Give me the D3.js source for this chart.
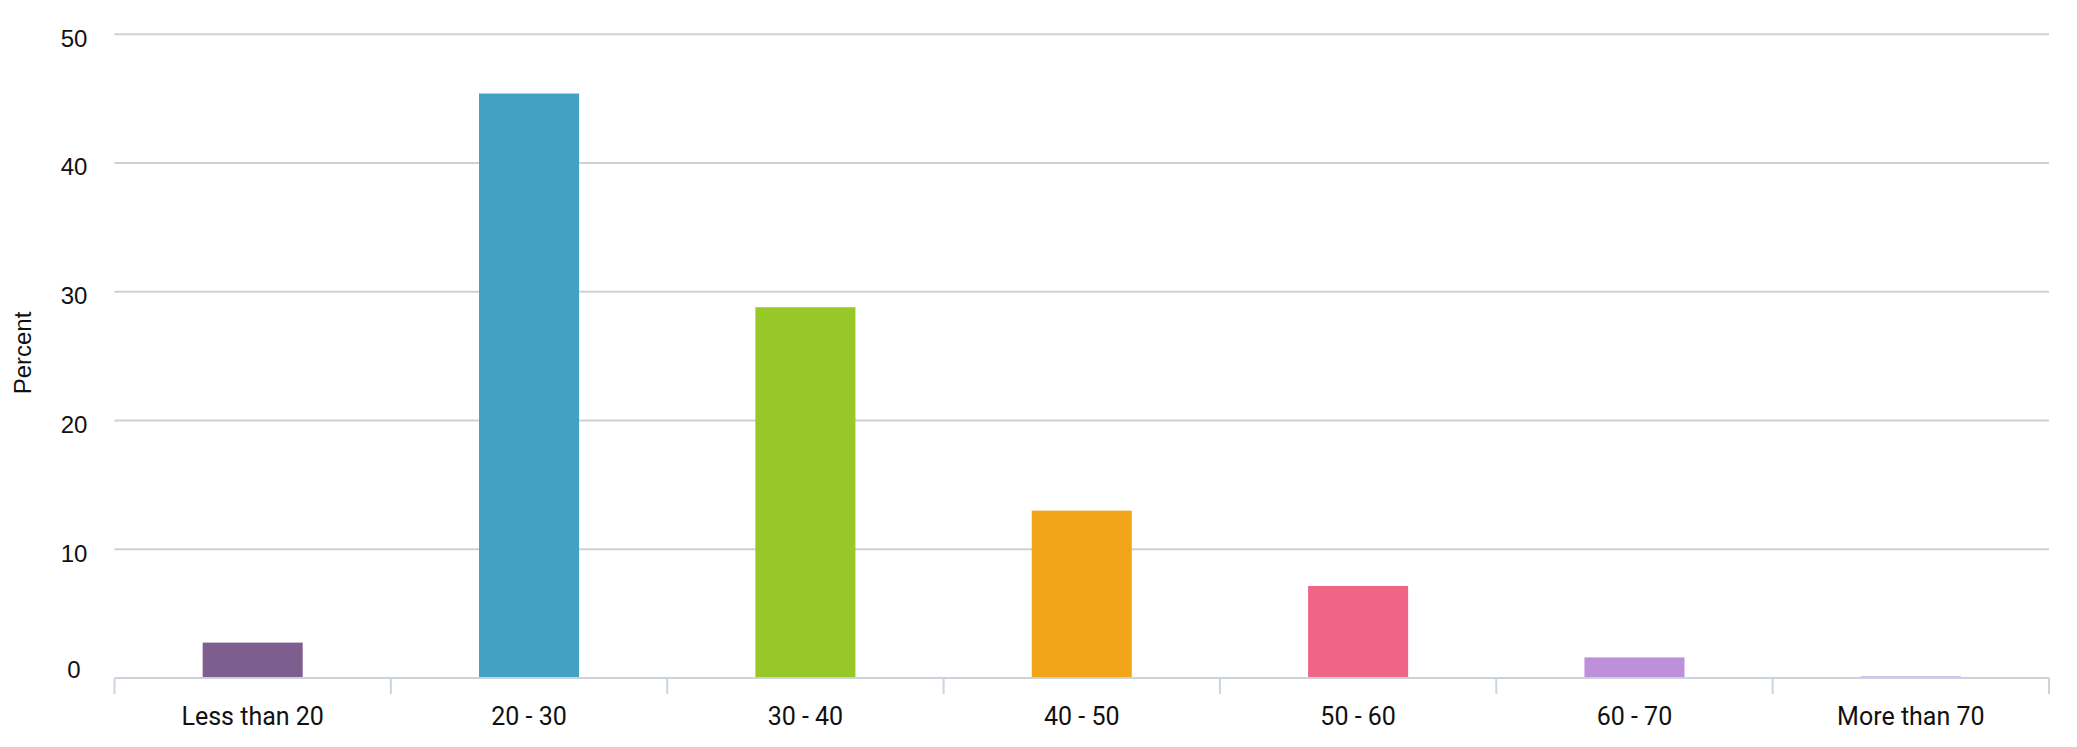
<!DOCTYPE html>
<html>
<head>
<meta charset="utf-8">
<script src="https://cdn.jsdelivr.net/npm/d3@7"></script>
<style>
  html, body { margin: 0; padding: 0; background: #fff; }
  svg { display: block; }
</style>
</head>
<body>
<svg id="chart" width="2077" height="747"></svg>
<script>
const categories = ["Less than 20", "20 - 30", "30 - 40", "40 - 50", "50 - 60", "60 - 70", "More than 70"];
const values = [2.75, 45.4, 28.8, 13.0, 7.15, 1.6, 0.12];
const colors = ["#7D5E8F", "#41A2C3", "#97C827", "#F3A51A", "#EF6586", "#BE8FDB", "#9A97D8"];
const yTicks = [0, 10, 20, 30, 40, 50];
const yTitle = "Percent";

(function () {
const plotLeft = 114.5, plotRight = 2049, plotTop = 34.3, plotBottom = 678;

const svg = d3.select("#chart");

const x = d3.scaleBand().domain(categories).range([plotLeft, plotRight]).padding(0);
const y = d3.scaleLinear().domain([0, 50]).range([plotBottom, plotTop]);

// gridlines
svg.append("g")
  .selectAll("line")
  .data(yTicks.filter(d => d !== 0))
  .join("line")
  .attr("x1", plotLeft).attr("x2", plotRight)
  .attr("y1", d => y(d)).attr("y2", d => y(d))
  .attr("stroke", "#d0d0d0")
  .attr("stroke-width", 2);

// y tick labels
svg.append("g")
  .selectAll("text")
  .data(yTicks)
  .join("text")
  .attr("x", 74)
  .attr("y", d => y(d) + (d === 0 ? -6 : 6))
  .attr("text-anchor", "middle")
  .attr("dominant-baseline", "middle")
  .attr("font-family", "'Liberation Sans', Arial, sans-serif")
  .attr("font-size", 24)
  .attr("fill", "#111")
  .text(d => d);

// y title
svg.append("text")
  .attr("transform", `translate(31, 353) rotate(-90)`)
  .attr("text-anchor", "middle")
  .attr("font-family", "'Liberation Sans', Arial, sans-serif")
  .attr("font-size", 24)
  .attr("fill", "#111")
  .text(yTitle);

// bars
const barW = x.bandwidth() * 0.362;
svg.append("g")
  .selectAll("rect")
  .data(categories.map((c, i) => ({ c, v: values[i], col: colors[i] })))
  .join("rect")
  .attr("x", d => x(d.c) + x.bandwidth() / 2 - barW / 2)
  .attr("width", barW)
  .attr("y", d => y(d.v))
  .attr("height", d => Math.max(1, y(0) - y(d.v)))
  .attr("fill", d => d.col);

// x axis line
svg.append("line")
  .attr("x1", plotLeft).attr("x2", plotRight)
  .attr("y1", y(0)).attr("y2", y(0))
  .attr("stroke", "#ccd2da")
  .attr("stroke-width", 2);

// x axis ticks at band boundaries
const boundaries = categories.map(c => x(c)).concat([x(categories[categories.length - 1]) + x.step()]);
svg.append("g")
  .selectAll("line")
  .data(boundaries)
  .join("line")
  .attr("x1", d => d).attr("x2", d => d)
  .attr("y1", y(0)).attr("y2", y(0) + 16)
  .attr("stroke", "#ccd4de")
  .attr("stroke-width", 2);

// x labels
svg.append("g")
  .selectAll("text")
  .data(categories)
  .join("text")
  .attr("x", d => x(d) + x.bandwidth() / 2)
  .attr("y", 725)
  .attr("text-anchor", "middle")
  .attr("font-family", "Roboto, sans-serif")
  .attr("font-size", 25)
  .attr("fill", "#111")
  .text(d => d);
})();
</script>
</body>
</html>
